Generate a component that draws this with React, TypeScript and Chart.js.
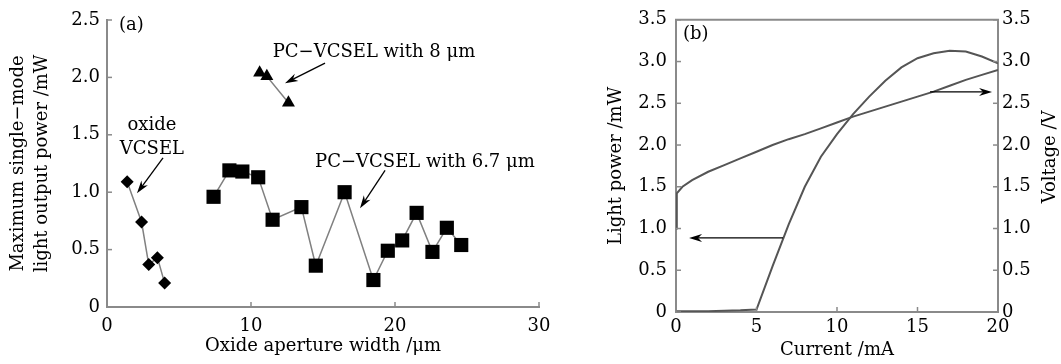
import React, { useEffect, useRef } from 'react';
import { Chart, registerables } from 'chart.js';

Chart.register(...registerables);

const FONT = 'DejaVu Serif';
const AXIS = '#8a8a8a';

// ---------- Panel (a) data ----------
const oxideX = [1.4, 2.4, 2.9, 3.5, 4.0];
const oxideY = [1.09, 0.74, 0.37, 0.43, 0.21];
const pc8X = [10.6, 11.1, 12.6];
const pc8Y = [2.04, 2.01, 1.78];
const pc67X = [7.4, 8.5, 9.4, 10.5, 11.5, 13.5, 14.5, 16.5, 18.5, 19.5, 20.5, 21.5, 22.6, 23.6, 24.6];
const pc67Y = [0.96, 1.19, 1.18, 1.13, 0.76, 0.87, 0.36, 1.0, 0.235, 0.49, 0.58, 0.82, 0.48, 0.69, 0.54];
const aXTicks = [0, 10, 20, 30];
const aYTicks = [0, 0.5, 1.0, 1.5, 2.0, 2.5];

// ---------- Panel (b) data ----------
const currentP = [0, 1, 2, 3, 4, 5, 6, 7, 8, 9, 10, 11, 12, 13, 14, 15, 16, 17, 18, 19, 20];
const powerP = [0.01, 0.01, 0.01, 0.015, 0.02, 0.03, 0.55, 1.05, 1.5, 1.86, 2.13, 2.37, 2.58, 2.77, 2.93, 3.04, 3.1, 3.13, 3.12, 3.06, 2.98];
const currentV = [0, 0.05, 0.4, 1, 2, 3, 4, 5, 6, 7, 8, 9, 10, 11, 12, 13, 14, 15, 16, 17, 18, 19, 20];
const voltageV = [1.0, 1.42, 1.5, 1.58, 1.68, 1.76, 1.84, 1.92, 2.0, 2.07, 2.13, 2.2, 2.27, 2.34, 2.4, 2.46, 2.52, 2.58, 2.64, 2.71, 2.78, 2.84, 2.9];
const bXTicks = [0, 5, 10, 15, 20];
const bYTicks = [0, 0.5, 1.0, 1.5, 2.0, 2.5, 3.0, 3.5];

// ---------- Annotations (data coordinates) ----------
const aTexts = [
  { text: '(a)', x: 0.83, y: 2.45, align: 'left' },
  { text: 'oxide', x: 3.12, y: 1.58, align: 'center' },
  { text: 'VCSEL', x: 3.12, y: 1.37, align: 'center' },
  { text: 'PC−VCSEL with 8 μm', x: 18.54, y: 2.22, align: 'center' },
  { text: 'PC−VCSEL with 6.7 μm', x: 22.08, y: 1.26, align: 'center' },
];
const aArrows = [
  { x1: 3.89, y1: 1.3, x2: 2.08, y2: 0.99 },
  { x1: 15.14, y1: 2.125, x2: 12.36, y2: 1.95 },
  { x1: 19.31, y1: 1.19, x2: 17.57, y2: 0.86 },
];
const bTexts = [{ text: '(b)', x: 0.43, y: 3.32, align: 'left' }];
const bArrows = [
  { x1: 6.65, y1: 0.887, x2: 0.81, y2: 0.887 },
  { x1: 15.78, y1: 2.636, x2: 19.63, y2: 2.636 },
];

const fmtY = (v: number) => (v === 0 ? '0' : v.toFixed(1));
const pts = (xs: number[], ys: number[]) => xs.map((x, i) => ({ x, y: ys[i] }));

const innerTicks = {
  id: 'innerTicks',
  afterDraw(chart: any) {
    const ctx = chart.ctx;
    const ca = chart.chartArea;
    ctx.save();
    ctx.strokeStyle = AXIS;
    ctx.lineWidth = 1.5;
    Object.values(chart.scales).forEach((s: any) => {
      s.ticks.forEach((t: any) => {
        const p = s.getPixelForValue(t.value);
        ctx.beginPath();
        if (s.axis === 'x') {
          ctx.moveTo(p, ca.bottom);
          ctx.lineTo(p, ca.bottom - 5);
        } else if (s.position === 'left') {
          ctx.moveTo(ca.left, p);
          ctx.lineTo(ca.left + 5, p);
        } else {
          ctx.moveTo(ca.right, p);
          ctx.lineTo(ca.right - 5, p);
        }
        ctx.stroke();
      });
    });
    ctx.restore();
  },
};

function drawArrow(ctx: CanvasRenderingContext2D, x1: number, y1: number, x2: number, y2: number) {
  const ang = Math.atan2(y2 - y1, x2 - x1);
  const L = 13;
  const W = 4;
  ctx.beginPath();
  ctx.moveTo(x1, y1);
  ctx.lineTo(x2 - Math.cos(ang) * 8, y2 - Math.sin(ang) * 8);
  ctx.stroke();
  const bx = x2 - Math.cos(ang) * L;
  const by = y2 - Math.sin(ang) * L;
  const nx = -Math.sin(ang) * W;
  const ny = Math.cos(ang) * W;
  ctx.beginPath();
  ctx.moveTo(x2, y2);
  ctx.lineTo(bx + nx, by + ny);
  ctx.lineTo(x2 - Math.cos(ang) * 9, y2 - Math.sin(ang) * 9);
  ctx.lineTo(bx - nx, by - ny);
  ctx.closePath();
  ctx.fill();
}

function makeAnnot(texts: any[], arrows: any[], yId: string, rightTitle?: string) {
  return {
    id: 'annot',
    afterDraw(chart: any) {
      const ctx = chart.ctx;
      const xs = chart.scales.x;
      const ys = chart.scales[yId];
      ctx.save();
      ctx.fillStyle = '#000';
      ctx.strokeStyle = '#000';
      ctx.lineWidth = 1.3;
      ctx.font = `18px "${FONT}"`;
      ctx.textBaseline = 'middle';
      texts.forEach((t) => {
        ctx.textAlign = t.align;
        ctx.fillText(t.text, xs.getPixelForValue(t.x), ys.getPixelForValue(t.y));
      });
      arrows.forEach((a) => {
        drawArrow(ctx, xs.getPixelForValue(a.x1), ys.getPixelForValue(a.y1), xs.getPixelForValue(a.x2), ys.getPixelForValue(a.y2));
      });
      if (rightTitle) {
        const ca = chart.chartArea;
        ctx.translate(ca.right + 52, (ca.top + ca.bottom) / 2 - 9);
        ctx.rotate(-Math.PI / 2);
        ctx.textAlign = 'center';
        ctx.fillText(rightTitle, 0, 0);
      }
      ctx.restore();
    },
  };
}

const boxTop = {
  id: 'boxTop',
  afterDraw(chart: any) {
    const ctx = chart.ctx;
    const ca = chart.chartArea;
    ctx.save();
    ctx.strokeStyle = AXIS;
    ctx.lineWidth = 2;
    ctx.beginPath();
    ctx.moveTo(ca.left - 1, ca.top);
    ctx.lineTo(ca.right + 1, ca.top);
    ctx.stroke();
    ctx.restore();
  },
};

const tickFont = { family: FONT, size: 18 };

function ChartA() {
  const ref = useRef<HTMLCanvasElement>(null);
  useEffect(() => {
    const pointBase = { showLine: true, borderColor: '#808080', borderWidth: 1.5, pointBackgroundColor: '#000', pointBorderColor: '#000', pointBorderWidth: 0, tension: 0 };
    const chart = new Chart(ref.current!, {
      type: 'scatter',
      data: {
        datasets: [
          { ...pointBase, data: pts(oxideX, oxideY), pointStyle: 'rectRot', pointRadius: 6.5 },
          { ...pointBase, data: pts(pc8X, pc8Y), pointStyle: 'triangle', pointRadius: 7.5 },
          { ...pointBase, data: pts(pc67X, pc67Y), pointStyle: 'rect', pointRadius: 10 },
        ] as any,
      },
      options: {
        responsive: false,
        animation: false,
        layout: { padding: { top: 20, right: 21, left: 0, bottom: 0 } },
        plugins: { legend: { display: false }, tooltip: { enabled: false } },
        scales: {
          x: {
            type: 'linear',
            min: 0,
            max: 30,
            afterFit: (s: any) => { s.height = 57; },
            afterBuildTicks: (s: any) => { s.ticks = aXTicks.map((v) => ({ value: v })); },
            ticks: { font: tickFont, color: '#000', padding: 9, maxRotation: 0, autoSkip: false, callback: (v: any) => String(v) },
            grid: { display: false, drawTicks: false },
            border: { display: true, color: AXIS, width: 2 },
            title: { display: true, text: 'Oxide aperture width /μm', color: '#000', font: { family: FONT, size: 18 }, padding: { top: 0, bottom: 7 } },
          },
          y: {
            type: 'linear',
            min: 0,
            max: 2.5,
            afterFit: (s: any) => { s.width = 107; },
            afterBuildTicks: (s: any) => { s.ticks = aYTicks.map((v) => ({ value: v })); },
            ticks: { font: tickFont, color: '#000', padding: 7, autoSkip: false, callback: (v: any) => fmtY(Number(v)) },
            grid: { display: false, drawTicks: false },
            border: { display: true, color: AXIS, width: 2 },
            title: { display: true, text: ['Maximum single−mode', 'light output power /mW'], color: '#000', font: { family: FONT, size: 18, lineHeight: 1.33 }, padding: { top: 6, bottom: 0 } },
          },
        },
      } as any,
      plugins: [innerTicks, makeAnnot(aTexts, aArrows, 'y')],
    });
    return () => chart.destroy();
  }, []);
  return <canvas ref={ref} width={560} height={364} style={{ position: 'absolute', left: 0, top: 0 }} />;
}

function ChartB() {
  const ref = useRef<HTMLCanvasElement>(null);
  useEffect(() => {
    const lineBase = { showLine: true, borderColor: '#555', borderWidth: 2, pointRadius: 0, tension: 0, fill: false };
    const chart = new Chart(ref.current!, {
      type: 'scatter',
      data: {
        datasets: [
          { ...lineBase, data: pts(currentP, powerP), yAxisID: 'y' },
          { ...lineBase, data: pts(currentV, voltageV), yAxisID: 'y1' },
        ] as any,
      },
      options: {
        responsive: false,
        animation: false,
        layout: { padding: { top: 16, right: 0, left: 0, bottom: 0 } },
        plugins: { legend: { display: false }, tooltip: { enabled: false } },
        scales: {
          x: {
            type: 'linear',
            min: 0,
            max: 20,
            afterFit: (s: any) => { s.height = 52; },
            afterBuildTicks: (s: any) => { s.ticks = bXTicks.map((v) => ({ value: v })); },
            ticks: { font: tickFont, color: '#000', padding: 5, maxRotation: 0, autoSkip: false, callback: (v: any) => String(v) },
            grid: { display: false, drawTicks: false },
            border: { display: true, color: AXIS, width: 2 },
            title: { display: true, text: 'Current /mA', color: '#000', font: { family: FONT, size: 18 }, padding: { top: 0, bottom: 3 } },
          },
          y: {
            type: 'linear',
            position: 'left',
            min: 0,
            max: 3.5,
            afterFit: (s: any) => { s.width = 116; },
            afterBuildTicks: (s: any) => { s.ticks = bYTicks.map((v) => ({ value: v })); },
            ticks: { font: tickFont, color: '#000', padding: 9, autoSkip: false, callback: (v: any) => fmtY(Number(v)) },
            grid: { display: false, drawTicks: false },
            border: { display: true, color: AXIS, width: 2 },
            title: { display: true, text: 'Light power /mW', color: '#000', font: { family: FONT, size: 18 }, padding: { top: 46, bottom: 0 } },
          },
          y1: {
            type: 'linear',
            position: 'right',
            min: 0,
            max: 3.5,
            afterFit: (s: any) => { s.width = 63; },
            afterBuildTicks: (s: any) => { s.ticks = bYTicks.map((v) => ({ value: v })); },
            ticks: { font: tickFont, color: '#000', padding: 4, autoSkip: false, callback: (v: any) => fmtY(Number(v)) },
            grid: { display: false, drawTicks: false },
            border: { display: true, color: AXIS, width: 2 },
          },
        },
      } as any,
      plugins: [innerTicks, boxTop, makeAnnot(bTexts, bArrows, 'y', 'Voltage /V')],
    });
    return () => chart.destroy();
  }, []);
  return <canvas ref={ref} width={501} height={364} style={{ position: 'absolute', left: 560, top: 0 }} />;
}

export default function App() {
  return (
    <div style={{ position: 'absolute', left: 0, top: 0, width: 1061, height: 364, background: '#fff', overflow: 'hidden' }}>
      <ChartA />
      <ChartB />
    </div>
  );
}
